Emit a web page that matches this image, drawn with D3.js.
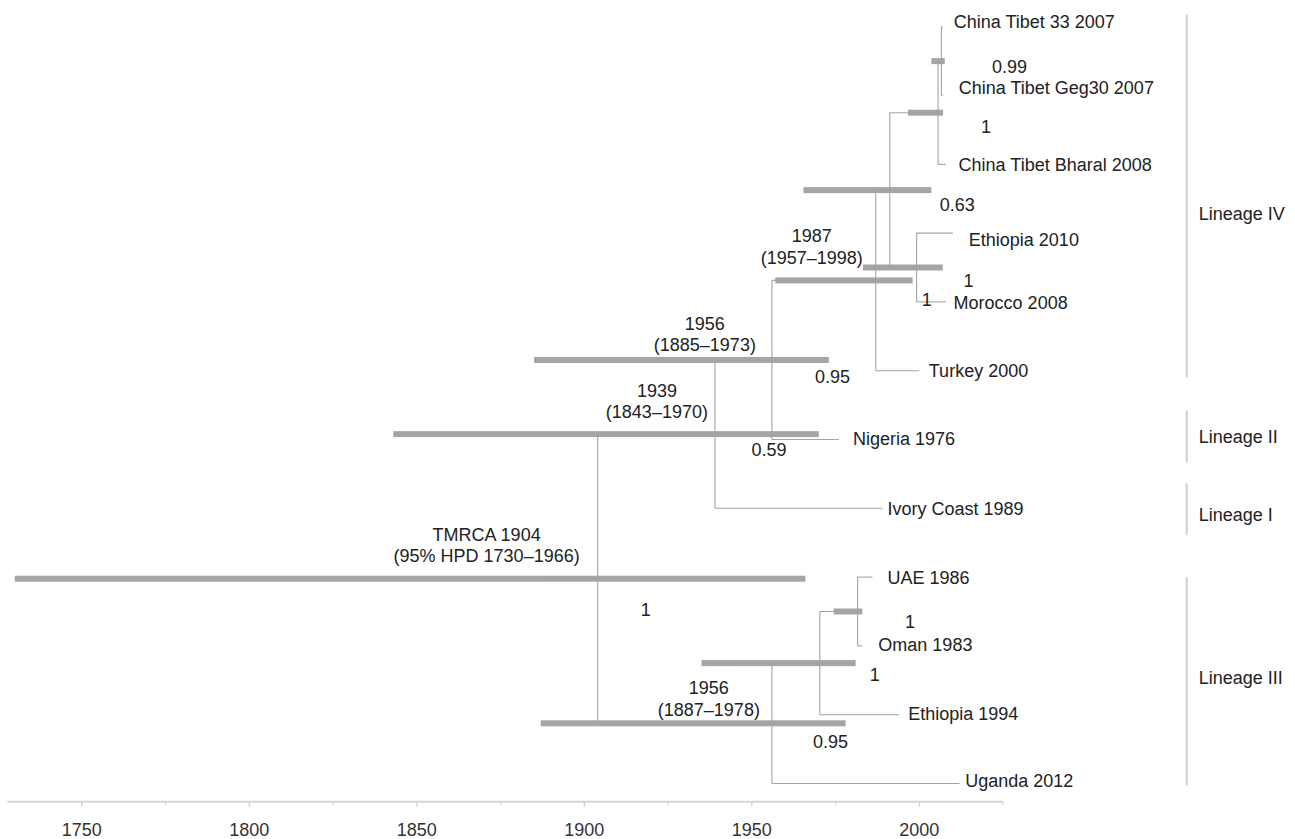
<!DOCTYPE html>
<html><head><meta charset="utf-8">
<script src="https://cdn.jsdelivr.net/npm/d3@7"></script>
<style>
html,body{margin:0;padding:0;background:#fff;}
svg{display:block;font-family:"Liberation Sans", Arial, Helvetica, sans-serif;}
</style></head><body>
<svg id="chart" width="1295" height="839"></svg>
<script>
// ---------- DATA ----------
// tips, top to bottom
const tipNames = ["China Tibet 33 2007","China Tibet Geg30 2007","China Tibet Bharal 2008","Ethiopia 2010","Morocco 2008","Turkey 2000","Nigeria 1976","Ivory Coast 1989","UAE 1986","Oman 1983","Ethiopia 1994","Uganda 2012"];
const tipYears = [2007,2007,2008,2010,2008,2000,1976,1989,1986,1983,1994,2012];

// internal nodes
const nodeIds   = ["root","n1939","n1956a","n1987","nC","nB","nA","nD","n1956b","nE94","nUAE"];
const nodeYears = [1904,1939,1956,1987,1991.2,2005.6,2006.6,1999.2,1956,1970.3,1981.6];
const hpdLow    = [1730,1843,1885,1957,1965.4,1996.6,2003.6,1983.2,1887,1935,1974.4];
const hpdHigh   = [1966,1970,1973,1998,2003.6,2007.1,2007.6,2007,1978,1981,1983];
const posterior = ["1","0.59","0.95","1","0.63","1","0.99","1","0.95","1","1"];
const nodeChildren = [
  ["n1939","n1956b"],
  ["n1956a","t7"],
  ["n1987","t6"],
  ["nC","t5"],
  ["nB","nD"],
  ["nA","t2"],
  ["t0","t1"],
  ["t3","t4"],
  ["nE94","t11"],
  ["nUAE","t10"],
  ["t8","t9"]
];
const dateLabelNodes = ["root","n1939","n1956a","n1987","n1956b"];
const dateLabelLine1 = ["TMRCA 1904","1939","1956","1987","1956"];
const dateLabelLine2 = ["(95% HPD 1730\u20131966)","(1843\u20131970)","(1885\u20131973)","(1957\u20131998)","(1887\u20131978)"];
const rootStubYear = 1889.5;

// lineages
const lineageNames = ["Lineage IV","Lineage II","Lineage I","Lineage III"];
const lineageFirstTip = [0,6,7,8];
const lineageLastTip  = [5,6,7,11];

// axis
const axisTicks = d3.range(1750, 2026, 25);
const axisStartYear = 1727.8;

// ---------- STYLE (offsets in px) ----------
const tipLabelStyle = {
  0:{dx:11,dy:-5},1:{dx:16,dy:-8},2:{dx:12.5,dy:0},3:{dx:16,dy:7},4:{dx:7.5,dy:0.6},5:{dx:9.5,dy:0},
  6:{dx:14,dy:-1},7:{dx:5,dy:0},8:{dx:15,dy:1},9:{dx:16,dy:-1},10:{dx:9,dy:-1.5},11:{dx:5.7,dy:-2.6}
};
const postStyle = {
  root:{dx:43,dy:31}, n1939:{dx:36.5,dy:16}, n1956a:{dx:43,dy:17}, n1987:{dx:46,dy:19},
  nC:{dx:50,dy:15}, nB:{dx:43,dy:14}, nA:{dx:50.6,dy:6}, nD:{dx:47,dy:13},
  n1956b:{dx:41,dy:18}, nE94:{dx:50,dy:12}, nUAE:{dx:47.4,dy:10.5}
};
const dateStyle = {root:{gap:18,dy:-23}, n1939:{gap:7,dy:-22}, n1956a:{gap:16,dy:-15}, n1987:{gap:13,dy:-23}, n1956b:{gap:12,dy:-14}};
const lineageStyle = [{top:-12,bot:7,labelDy:17},{top:-29,bot:23,labelDy:0},{top:-25,bot:27,labelDy:5},{top:0,bot:2,labelDy:-4}];

const FONT = 18, TEXT = "#222", BRANCH = "#a3a3a3", BAR = "#9b9b9b";

// ---------- SCALES ----------
const x = d3.scaleLinear().domain([1900, 2000]).range([584.3, 919.3]);
const y = d3.scaleLinear().domain([0, tipNames.length - 1]).range([26.7, 783.5]);

const svg = d3.select("#chart");

// build node map
const nodes = {};
tipNames.forEach((n,i)=>{ nodes["t"+i] = {id:"t"+i, tip:true, idx:i, year:tipYears[i], row:i}; });
nodeIds.forEach((id,i)=>{ nodes[id] = {id, tip:false, year:nodeYears[i], lo:hpdLow[i], hi:hpdHigh[i], post:posterior[i], children:nodeChildren[i]}; });
function row(id){
  const n = nodes[id];
  if (n.row !== undefined) return n.row;
  const rs = n.children.map(row);
  n.row = d3.mean(rs);
  return n.row;
}
row("root");

const gBars = svg.append("g");
const gLines = svg.append("g");
const gText = svg.append("g").attr("fill", TEXT).style("font-size", FONT + "px");

// HPD bars
gBars.selectAll("rect").data(nodeIds.map(id=>nodes[id])).join("rect")
  .attr("x", d=>x(d.lo)).attr("width", d=>x(d.hi)-x(d.lo))
  .attr("y", d=>y(d.row)-3).attr("height", 6)
  .attr("fill", BAR).attr("opacity", 0.9);

// branches
const segs = [];
nodeIds.forEach(id=>{
  const n = nodes[id];
  const cr = n.children.map(c=>nodes[c].row);
  segs.push([n.year, d3.min(cr), n.year, d3.max(cr)]);
  n.children.forEach(c=>{ const ch = nodes[c]; segs.push([n.year, ch.row, ch.year, ch.row]); });
});
segs.push([rootStubYear, nodes.root.row, nodes.root.year, nodes.root.row]);
gLines.selectAll("line").data(segs).join("line")
  .attr("x1", d=>x(d[0])).attr("y1", d=>y(d[1]))
  .attr("x2", d=>x(d[2])).attr("y2", d=>y(d[3]))
  .attr("stroke", BRANCH).attr("stroke-width", 1.1);

// tip labels
gText.selectAll("text.tip").data(tipNames).join("text").attr("class","tip")
  .attr("x", (d,i)=>x(tipYears[i]) + tipLabelStyle[i].dx)
  .attr("y", (d,i)=>y(i) + tipLabelStyle[i].dy)
  .attr("dy", "0.35em").text(d=>d);

// posterior labels
gText.selectAll("text.post").data(nodeIds).join("text").attr("class","post")
  .attr("x", d=>x(nodes[d].year) + postStyle[d].dx)
  .attr("y", d=>y(nodes[d].row) + postStyle[d].dy)
  .attr("dy", "0.35em").text(d=>nodes[d].post);

// date labels
dateLabelNodes.forEach((id,i)=>{
  const n = nodes[id], st = dateStyle[id];
  const l2 = gText.append("text").attr("text-anchor","middle").attr("dy","0.35em").text(dateLabelLine2[i]);
  const w = l2.node().getComputedTextLength();
  const cx = x(n.year) - st.gap - w/2;
  const cy = y(n.row) + st.dy;
  l2.attr("x", cx).attr("y", cy);
  gText.append("text").attr("text-anchor","middle").attr("dy","0.35em")
    .attr("x", cx).attr("y", cy - 21.5).text(dateLabelLine1[i]);
});

// lineage bars
const LX = 1186.7;
lineageNames.forEach((name,i)=>{
  const st = lineageStyle[i];
  const y1 = y(lineageFirstTip[i]) + st.top, y2 = y(lineageLastTip[i]) + st.bot;
  svg.append("line").attr("x1",LX).attr("x2",LX).attr("y1",y1).attr("y2",y2)
    .attr("stroke","#cfcfcf").attr("stroke-width",2);
  gText.append("text").attr("x", LX + 12).attr("y", (y1+y2)/2 + st.labelDy)
    .attr("dy","0.35em").text(name);
});

// axis
const axisY = 801.7;
const gAxis = svg.append("g").attr("transform", `translate(0,${axisY})`);
gAxis.append("line").attr("x1", x(axisStartYear)).attr("x2", x(2025))
  .attr("stroke", "#d4d4d4").attr("stroke-width", 2);
gAxis.selectAll("line.tick").data(axisTicks).join("line").attr("class","tick")
  .attr("x1", d=>x(d)).attr("x2", d=>x(d))
  .attr("y1", 0).attr("y2", d=> d%50===0 ? 5 : 3)
  .attr("stroke", "#cfcfcf").attr("stroke-width", 1.2);
gAxis.selectAll("text").data(axisTicks.filter(d=>d%50===0)).join("text")
  .attr("x", d=>x(d)).attr("y", 28).attr("dy","0.35em")
  .attr("text-anchor","middle").attr("fill", "#333").style("font-size", FONT+"px")
  .text(d=>d);
</script>
</body></html>
